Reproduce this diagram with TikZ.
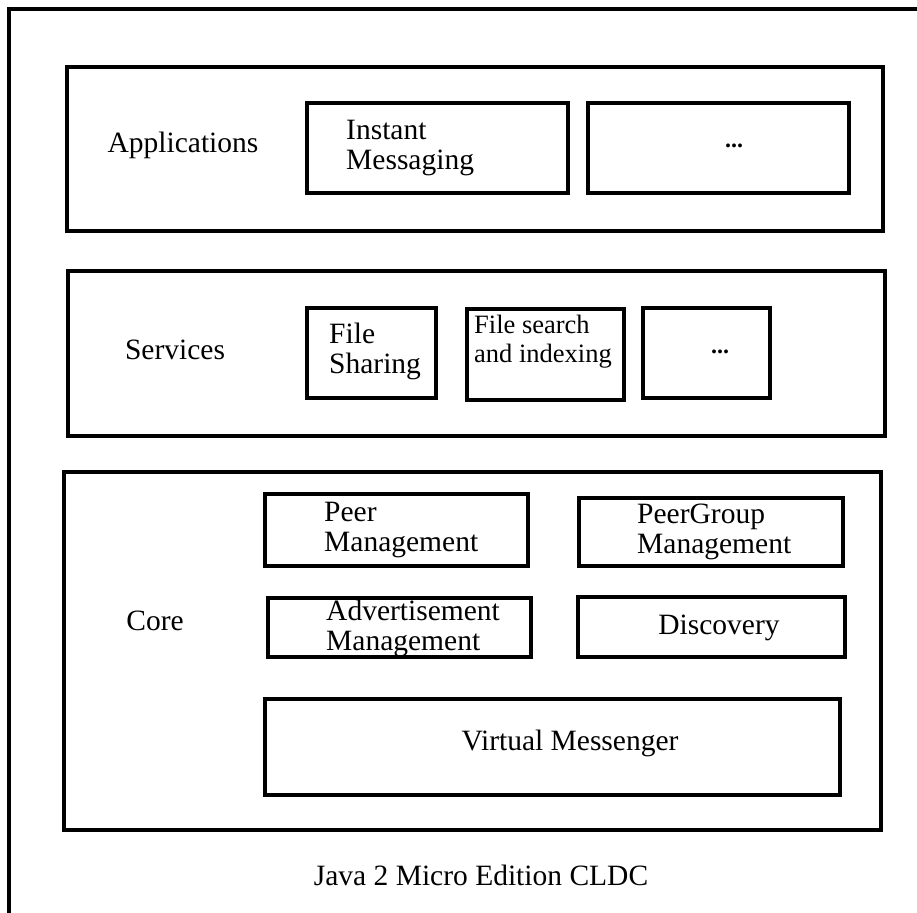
\documentclass[tikz,border=0pt]{standalone}
\usepackage{fontspec}
\setmainfont{Liberation Serif}
\tikzset{
  layer/.style={line width=3.2pt},
  lbl/.style={inner sep=0pt, font=\fontsize{29.5}{30}\selectfont, align=left},
  dots/.style={inner sep=0pt, font=\fontsize{24}{24}\selectfont\bfseries}
}
\begin{document}
\begin{tikzpicture}[x=1pt,y=-1pt]
		\clip (0,0) rectangle (917,912);
		\draw[layer] (9,9) rectangle (960,960);
		% Applications
		\draw[layer] (67,67) rectangle (883,231);
		\draw[layer] (307,103) rectangle (568,193);
		\draw[layer] (588,103) rectangle (849,193);
		\node[lbl] (apps) at (183,145) {Applications};
		\node[lbl, anchor=west] (im) at (346,148) {Instant\\Messaging};
		\node[dots] (appdots) at (734,146) {...};
		% Services
		\draw[layer] (68,271) rectangle (885,436);
		\draw[layer] (307,308) rectangle (436,398);
		\draw[layer] (467,309) rectangle (624,400);
		\draw[layer] (643,308) rectangle (770,398);
		\node[lbl] (serv) at (175,350) {Services};
		\node[lbl, anchor=west] (share) at (329,351) {File\\Sharing};
		\node[lbl, anchor=west, font=\fontsize{26.5}{29}\selectfont] (search) at (474,342) {File search\\and indexing};
		\node[dots] (servdots) at (720,352) {...};
		% Core
		\draw[layer] (64,472) rectangle (881,830);
		\draw[layer] (265,494) rectangle (528,566);
		\draw[layer] (579,498) rectangle (843,566);
		\draw[layer] (268,598) rectangle (531,657);
		\draw[layer] (578,597) rectangle (845,657);
		\draw[layer] (265,699) rectangle (840,795);
		\node[lbl] (core) at (155,621) {Core};
		\node[lbl, anchor=west] (peer) at (324,530) {Peer\\Management};
		\node[lbl, anchor=west] (group) at (637,532) {PeerGroup\\Management};
		\node[lbl, anchor=west] (advert) at (326,628) {Advertisement\\Management};
		\node[lbl] (disc) at (719,628) {Discovery};
		\node[lbl] (vm) at (570,743) {Virtual Messenger};
		\node[lbl] (j2me) at (481,875) {Java 2 Micro Edition CLDC};
\end{tikzpicture}
\end{document}
